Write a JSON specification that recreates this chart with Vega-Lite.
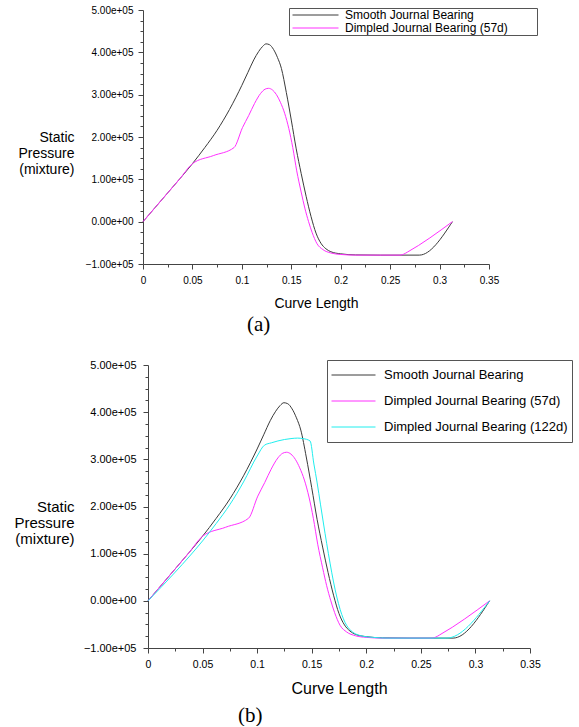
{
  "$schema": "https://vega.github.io/schema/vega-lite/v6.json",
  "background": "white",
  "padding": {"left": 13, "top": 5, "right": 0, "bottom": 0},
  "align": "none",
  "bounds": "full",
  "spacing": 24,
  "resolve": {"scale": {"color": "independent"}, "legend": {"color": "independent"}},
  "config": {
    "view": {"stroke": null},
    "font": "Liberation Sans",
    "axis": {"grid": false, "domainColor": "#444", "tickColor": "#444", "labelColor": "#000", "titleColor": "#000", "titleFontWeight": "normal", "labelFont": "Liberation Sans", "titleFont": "Liberation Sans", "labelFlush": false, "labelOverlap": false}
  },
  "datasets": {
    "curves": [
      {"series": "Smooth Journal Bearing", "x": 0, "y": 0},
      {"series": "Smooth Journal Bearing", "x": 0.0125, "y": 34000},
      {"series": "Smooth Journal Bearing", "x": 0.025, "y": 68000},
      {"series": "Smooth Journal Bearing", "x": 0.0375, "y": 102000},
      {"series": "Smooth Journal Bearing", "x": 0.05, "y": 137000},
      {"series": "Smooth Journal Bearing", "x": 0.0625, "y": 175000},
      {"series": "Smooth Journal Bearing", "x": 0.075, "y": 216000},
      {"series": "Smooth Journal Bearing", "x": 0.0875, "y": 265000},
      {"series": "Smooth Journal Bearing", "x": 0.1, "y": 322000},
      {"series": "Smooth Journal Bearing", "x": 0.106, "y": 352000},
      {"series": "Smooth Journal Bearing", "x": 0.112, "y": 382000},
      {"series": "Smooth Journal Bearing", "x": 0.117, "y": 402000},
      {"series": "Smooth Journal Bearing", "x": 0.121, "y": 414000},
      {"series": "Smooth Journal Bearing", "x": 0.1245, "y": 420000},
      {"series": "Smooth Journal Bearing", "x": 0.128, "y": 418000},
      {"series": "Smooth Journal Bearing", "x": 0.132, "y": 407000},
      {"series": "Smooth Journal Bearing", "x": 0.136, "y": 388000},
      {"series": "Smooth Journal Bearing", "x": 0.14, "y": 362000},
      {"series": "Smooth Journal Bearing", "x": 0.145, "y": 305000},
      {"series": "Smooth Journal Bearing", "x": 0.15, "y": 240000},
      {"series": "Smooth Journal Bearing", "x": 0.155, "y": 172000},
      {"series": "Smooth Journal Bearing", "x": 0.16, "y": 114000},
      {"series": "Smooth Journal Bearing", "x": 0.165, "y": 60000},
      {"series": "Smooth Journal Bearing", "x": 0.17, "y": 12000},
      {"series": "Smooth Journal Bearing", "x": 0.175, "y": -27000},
      {"series": "Smooth Journal Bearing", "x": 0.18, "y": -51000},
      {"series": "Smooth Journal Bearing", "x": 0.185, "y": -64000},
      {"series": "Smooth Journal Bearing", "x": 0.19, "y": -71000},
      {"series": "Smooth Journal Bearing", "x": 0.2, "y": -76000},
      {"series": "Smooth Journal Bearing", "x": 0.215, "y": -78500},
      {"series": "Smooth Journal Bearing", "x": 0.24, "y": -79000},
      {"series": "Smooth Journal Bearing", "x": 0.2795, "y": -79000},
      {"series": "Smooth Journal Bearing", "x": 0.313, "y": 0},

      {"series": "Dimpled Journal Bearing (57d)", "x": 0, "y": 0},
      {"series": "Dimpled Journal Bearing (57d)", "x": 0.0125, "y": 34000},
      {"series": "Dimpled Journal Bearing (57d)", "x": 0.025, "y": 68000},
      {"series": "Dimpled Journal Bearing (57d)", "x": 0.0375, "y": 102000},
      {"series": "Dimpled Journal Bearing (57d)", "x": 0.05, "y": 137000},
      {"series": "Dimpled Journal Bearing (57d)", "x": 0.0711, "y": 156000},
      {"series": "Dimpled Journal Bearing (57d)", "x": 0.0921, "y": 175000},
      {"series": "Dimpled Journal Bearing (57d)", "x": 0.1006, "y": 222000},
      {"series": "Dimpled Journal Bearing (57d)", "x": 0.107, "y": 251000},
      {"series": "Dimpled Journal Bearing (57d)", "x": 0.1128, "y": 279000},
      {"series": "Dimpled Journal Bearing (57d)", "x": 0.119, "y": 303000},
      {"series": "Dimpled Journal Bearing (57d)", "x": 0.1235, "y": 313000},
      {"series": "Dimpled Journal Bearing (57d)", "x": 0.127, "y": 315000},
      {"series": "Dimpled Journal Bearing (57d)", "x": 0.131, "y": 311000},
      {"series": "Dimpled Journal Bearing (57d)", "x": 0.135, "y": 300000},
      {"series": "Dimpled Journal Bearing (57d)", "x": 0.139, "y": 282000},
      {"series": "Dimpled Journal Bearing (57d)", "x": 0.1433, "y": 256000},
      {"series": "Dimpled Journal Bearing (57d)", "x": 0.1475, "y": 220000},
      {"series": "Dimpled Journal Bearing (57d)", "x": 0.1515, "y": 175000},
      {"series": "Dimpled Journal Bearing (57d)", "x": 0.1555, "y": 120000},
      {"series": "Dimpled Journal Bearing (57d)", "x": 0.16, "y": 70000},
      {"series": "Dimpled Journal Bearing (57d)", "x": 0.1637, "y": 32000},
      {"series": "Dimpled Journal Bearing (57d)", "x": 0.1675, "y": 0},
      {"series": "Dimpled Journal Bearing (57d)", "x": 0.171, "y": -25000},
      {"series": "Dimpled Journal Bearing (57d)", "x": 0.176, "y": -52000},
      {"series": "Dimpled Journal Bearing (57d)", "x": 0.182, "y": -66000},
      {"series": "Dimpled Journal Bearing (57d)", "x": 0.19, "y": -74000},
      {"series": "Dimpled Journal Bearing (57d)", "x": 0.2, "y": -77500},
      {"series": "Dimpled Journal Bearing (57d)", "x": 0.215, "y": -79000},
      {"series": "Dimpled Journal Bearing (57d)", "x": 0.26, "y": -79000},
      {"series": "Dimpled Journal Bearing (57d)", "x": 0.2635, "y": -77000},
      {"series": "Dimpled Journal Bearing (57d)", "x": 0.2674, "y": -72000},
      {"series": "Dimpled Journal Bearing (57d)", "x": 0.313, "y": 0},

      {"series": "Dimpled Journal Bearing (122d)", "x": 0, "y": 0},
      {"series": "Dimpled Journal Bearing (122d)", "x": 0.0125, "y": 30000},
      {"series": "Dimpled Journal Bearing (122d)", "x": 0.025, "y": 61000},
      {"series": "Dimpled Journal Bearing (122d)", "x": 0.0375, "y": 93000},
      {"series": "Dimpled Journal Bearing (122d)", "x": 0.05, "y": 127000},
      {"series": "Dimpled Journal Bearing (122d)", "x": 0.0625, "y": 164000},
      {"series": "Dimpled Journal Bearing (122d)", "x": 0.075, "y": 204000},
      {"series": "Dimpled Journal Bearing (122d)", "x": 0.0875, "y": 252000},
      {"series": "Dimpled Journal Bearing (122d)", "x": 0.1, "y": 307000},
      {"series": "Dimpled Journal Bearing (122d)", "x": 0.1067, "y": 330000},
      {"series": "Dimpled Journal Bearing (122d)", "x": 0.113, "y": 335000},
      {"series": "Dimpled Journal Bearing (122d)", "x": 0.119, "y": 339000},
      {"series": "Dimpled Journal Bearing (122d)", "x": 0.125, "y": 342000},
      {"series": "Dimpled Journal Bearing (122d)", "x": 0.131, "y": 344000},
      {"series": "Dimpled Journal Bearing (122d)", "x": 0.137, "y": 345000},
      {"series": "Dimpled Journal Bearing (122d)", "x": 0.142, "y": 344000},
      {"series": "Dimpled Journal Bearing (122d)", "x": 0.1485, "y": 339000},
      {"series": "Dimpled Journal Bearing (122d)", "x": 0.152, "y": 290000},
      {"series": "Dimpled Journal Bearing (122d)", "x": 0.155, "y": 250000},
      {"series": "Dimpled Journal Bearing (122d)", "x": 0.158, "y": 205000},
      {"series": "Dimpled Journal Bearing (122d)", "x": 0.1607, "y": 165000},
      {"series": "Dimpled Journal Bearing (122d)", "x": 0.1637, "y": 122000},
      {"series": "Dimpled Journal Bearing (122d)", "x": 0.1668, "y": 80000},
      {"series": "Dimpled Journal Bearing (122d)", "x": 0.17, "y": 40000},
      {"series": "Dimpled Journal Bearing (122d)", "x": 0.173, "y": 8000},
      {"series": "Dimpled Journal Bearing (122d)", "x": 0.176, "y": -18000},
      {"series": "Dimpled Journal Bearing (122d)", "x": 0.179, "y": -38000},
      {"series": "Dimpled Journal Bearing (122d)", "x": 0.182, "y": -52000},
      {"series": "Dimpled Journal Bearing (122d)", "x": 0.185, "y": -61000},
      {"series": "Dimpled Journal Bearing (122d)", "x": 0.19, "y": -70000},
      {"series": "Dimpled Journal Bearing (122d)", "x": 0.195, "y": -74000},
      {"series": "Dimpled Journal Bearing (122d)", "x": 0.2064, "y": -77500},
      {"series": "Dimpled Journal Bearing (122d)", "x": 0.22, "y": -79000},
      {"series": "Dimpled Journal Bearing (122d)", "x": 0.2735, "y": -79000},
      {"series": "Dimpled Journal Bearing (122d)", "x": 0.313, "y": 0}
    ]
  },
  "vconcat": [
    {
      "width": 346,
      "height": 254,
      "data": {"name": "curves"},
      "transform": [{"filter": "datum.series != 'Dimpled Journal Bearing (122d)'"}],
      "title": {"text": "(a)", "orient": "bottom", "anchor": "start", "frame": "group", "dx": 104, "font": "Liberation Serif", "fontSize": 21, "fontWeight": "normal", "offset": 4, "color": "#000"},
      "mark": {"type": "line", "strokeWidth": 1, "interpolate": "monotone"},
      "encoding": {
        "x": {
          "field": "x", "type": "quantitative",
          "scale": {"domain": [0, 0.35], "nice": false, "zero": false},
          "axis": {
            "title": "Curve Length", "titleFontSize": 14, "titlePadding": 11,
            "values": [0, 0.025, 0.05, 0.075, 0.1, 0.125, 0.15, 0.175, 0.2, 0.225, 0.25, 0.275, 0.3, 0.325, 0.35],
            "labelExpr": "abs(round(datum.value * 1000) % 50) < 1 ? format(datum.value, '~g') : ''",
            "labelFontSize": 10, "labelPadding": 6,
            "tickSize": {"condition": {"test": "abs(round(datum.value * 1000) % 50) < 1", "value": 5}, "value": 3}
          }
        },
        "y": {
          "field": "y", "type": "quantitative",
          "scale": {"domain": [-100000, 500000], "nice": false, "zero": false},
          "axis": {
            "title": ["Static", "Pressure", "(mixture)"],
            "titleAngle": 0, "titleAlign": "right", "titleBaseline": "top",
            "titleX": -69, "titleY": 120, "titleFontSize": 14, "titleLineHeight": 16,
            "values": [-100000, -75000, -50000, -25000, 0, 25000, 50000, 75000, 100000, 125000, 150000, 175000, 200000, 225000, 250000, 275000, 300000, 325000, 350000, 375000, 400000, 425000, 450000, 475000, 500000],
            "labelExpr": "datum.value % 100000 == 0 ? replace(format(datum.value, '.2e'), 'e+', 'e+0') : ''",
            "labelFontSize": 10, "labelPadding": 5,
            "tickSize": {"condition": {"test": "datum.value % 100000 == 0", "value": 5}, "value": 3}
          }
        },
        "color": {
          "field": "series", "type": "nominal",
          "scale": {"domain": ["Smooth Journal Bearing", "Dimpled Journal Bearing (57d)"], "range": ["#3a3a3a", "#ff30ff"]},
          "legend": {
            "orient": "none", "legendX": 146, "legendY": -2,
            "title": "\u00a0", "titleOrient": "right", "titlePadding": 28, "titleFontSize": 11,
            "symbolType": "stroke", "symbolSize": 2116, "symbolStrokeWidth": 1,
            "labelFontSize": 12, "labelFont": "Liberation Sans", "labelColor": "#000", "labelLimit": 400, "labelOffset": 6,
            "clipHeight": 12, "rowPadding": 1, "padding": 1, "symbolOffset": 2,
            "strokeColor": "#555", "fillColor": "white"
          }
        }
      }
    },
    {
      "width": 387,
      "height": 283,
      "data": {"name": "curves"},
      "title": {"text": "(b)", "orient": "bottom", "anchor": "start", "frame": "group", "dx": 95, "font": "Liberation Serif", "fontSize": 21, "fontWeight": "normal", "offset": 8, "color": "#000"},
      "mark": {"type": "line", "strokeWidth": 1, "interpolate": "monotone"},
      "encoding": {
        "x": {
          "field": "x", "type": "quantitative",
          "scale": {"domain": [0, 0.35], "nice": false, "zero": false, "range": [5, 387]},
          "axis": {
            "title": "Curve Length", "titleFontSize": 16, "titlePadding": 11,
            "values": [0, 0.025, 0.05, 0.075, 0.1, 0.125, 0.15, 0.175, 0.2, 0.225, 0.25, 0.275, 0.3, 0.325, 0.35],
            "labelExpr": "abs(round(datum.value * 1000) % 50) < 1 ? format(datum.value, '~g') : ''",
            "labelFontSize": 10.5, "labelPadding": 6,
            "tickSize": {"condition": {"test": "abs(round(datum.value * 1000) % 50) < 1", "value": 5}, "value": 3}
          }
        },
        "y": {
          "field": "y", "type": "quantitative",
          "scale": {"domain": [-100000, 500000], "nice": false, "zero": false},
          "axis": {
            "offset": -5,
            "title": ["Static", "Pressure", "(mixture)"],
            "titleAngle": 0, "titleAlign": "right", "titleBaseline": "top",
            "titleX": -74, "titleY": 134, "titleFontSize": 15, "titleLineHeight": 16,
            "values": [-100000, -75000, -50000, -25000, 0, 25000, 50000, 75000, 100000, 125000, 150000, 175000, 200000, 225000, 250000, 275000, 300000, 325000, 350000, 375000, 400000, 425000, 450000, 475000, 500000],
            "labelExpr": "datum.value % 100000 == 0 ? replace(format(datum.value, '.2e'), 'e+', 'e+0') : ''",
            "labelFontSize": 11, "labelPadding": 7,
            "tickSize": {"condition": {"test": "datum.value % 100000 == 0", "value": 5}, "value": 3}
          }
        },
        "color": {
          "field": "series", "type": "nominal",
          "scale": {"domain": ["Smooth Journal Bearing", "Dimpled Journal Bearing (57d)", "Dimpled Journal Bearing (122d)"], "range": ["#3a3a3a", "#ff30ff", "#20eeee"]},
          "legend": {
            "orient": "none", "legendX": 184, "legendY": -5, "title": null,
            "symbolType": "stroke", "symbolSize": 1936, "symbolStrokeWidth": 1,
            "labelFontSize": 13, "labelFont": "Liberation Sans", "labelColor": "#000", "labelLimit": 400, "labelOffset": 8,
            "clipHeight": 22, "rowPadding": 4, "padding": 4,
            "strokeColor": "#555", "fillColor": "white"
          }
        }
      }
    }
  ]
}
